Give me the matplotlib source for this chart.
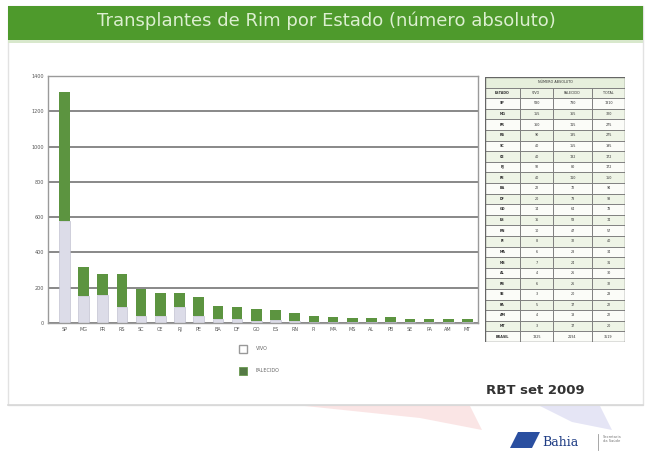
import matplotlib.pyplot as plt
from matplotlib.patches import Rectangle, Polygon
import numpy as np

# kidney transplants by state, living vs deceased donor
states = ['SP', 'MG', 'PR', 'RS', 'SC', 'CE', 'RJ', 'PE', 'BA', 'DF', 'GO',
          'ES', 'RN', 'PI', 'MA', 'MS', 'AL', 'PB', 'SE', 'PA', 'AM', 'MT']
vivo = [580, 155, 160, 90, 40, 40, 92, 40, 22, 20, 14,
        16, 10, 8, 6, 7, 4, 6, 3, 5, 4, 3]
falecido = [730, 165, 115, 185, 155, 132, 80, 110, 72, 73, 64,
            58, 47, 32, 28, 24, 26, 26, 20, 17, 18, 17]
yticks = [0, 200, 400, 600, 800, 1000, 1200, 1400]

W, H = 651, 457
green = '#4e9a2c'
bar_green = '#5c9440'
light = '#dcdce8'


def fx(px):
    return px / W


def fy(py):
    return 1 - py / H


fig = plt.figure(figsize=(W / 100, H / 100), dpi=100, facecolor='white')

# slide background, header band and footer
bg = fig.add_axes([0, 0, 1, 1])
bg.set_xlim(0, W)
bg.set_ylim(H, 0)
bg.axis('off')
bg.add_patch(Rectangle((8, 6), 635, 399, facecolor='white', edgecolor='#e2e2e2', lw=1))
bg.add_patch(Rectangle((8, 39), 635, 4, facecolor='#d8e8cc', edgecolor='none'))
bg.add_patch(Rectangle((8, 6), 635, 34, facecolor=green, edgecolor='none'))
bg.text(326, 21, 'Transplantes de Rim por Estado (número absoluto)', color='#dcefd0',
        fontsize=13, ha='center', va='center')
bg.plot([8, 643], [405, 405], color='#d8d8d8', lw=1.2)
bg.add_patch(Polygon([[305, 406], [470, 406], [482, 430], [420, 418]],
                     closed=True, facecolor='#f8d4d4', edgecolor='none', alpha=0.6))
bg.add_patch(Polygon([[540, 406], [600, 406], [612, 430], [572, 422]],
                     closed=True, facecolor='#dadaf2', edgecolor='none', alpha=0.7))
bg.text(585, 391, 'RBT set 2009', fontsize=9.5, fontweight='bold', color='#333333',
        ha='right', va='center')
bg.add_patch(Polygon([[510, 448], [518, 432], [540, 432], [532, 448]],
                     closed=True, facecolor='#2a4fa0', edgecolor='none'))
bg.text(542, 442, 'Bahia', fontsize=9, family='DejaVu Serif', color='#1e3c84',
        ha='left', va='center')
bg.plot([598, 598], [434, 450], color='#999999', lw=0.6)
bg.text(603, 439, 'Secretaria\nda Saúde', fontsize=2.6, color='#777777',
        ha='left', va='center', linespacing=1.1)

# stacked bar chart
ax = fig.add_axes([fx(48), fy(323), fx(478 - 48), fy(76) - fy(323)])
x = np.arange(len(states))
ax.bar(x, vivo, width=0.55, color=light, edgecolor='#b8b8c8', lw=0.4)
ax.bar(x, falecido, bottom=vivo, width=0.55, color=bar_green, edgecolor='none')
ax.set_xlim(-0.85, len(states) - 0.45)
ax.set_ylim(0, 1400)
ax.set_yticks(yticks)
ax.set_yticklabels([str(t) for t in yticks], fontsize=3.5, color='#555555')
ax.set_xticks(x)
ax.set_xticklabels(states, fontsize=3.5, color='#555555')
ax.tick_params(length=0, pad=3)
ax.grid(axis='y', color='#7f7f7f', lw=1.3)
ax.set_axisbelow(True)
for s in ax.spines.values():
    s.set_color('#9a9a9a')
    s.set_linewidth(1)

# legend
bg.add_patch(Rectangle((239, 345), 8, 8, facecolor='white', edgecolor='#999999', lw=1))
bg.text(256, 349, 'VIVO', fontsize=3.5, color='#666666', va='center')
bg.add_patch(Rectangle((239, 367), 8, 8, facecolor='#557a45', edgecolor='#6a9a50', lw=0.6))
bg.text(256, 371, 'FALECIDO', fontsize=3.5, color='#666666', va='center')

# summary table at the right
tb = fig.add_axes([fx(485), fy(342), fx(625 - 485), fy(77) - fy(342)])
tb.axis('off')
col_x = [0, 35, 68, 107, 140]
nrows = len(states) + 3
tb.set_xlim(0, 140)
tb.set_ylim(nrows, 0)
totals = [v + f for v, f in zip(vivo, falecido)]
rows = [['ESTADO', 'VIVO', 'FALECIDO', 'TOTAL']]
rows += [[s, str(v), str(f), str(t)] for s, v, f, t in zip(states, vivo, falecido, totals)]
rows += [['BRASIL', str(sum(vivo)), str(sum(falecido)), str(sum(totals))]]
tb.add_patch(Rectangle((0, 0), 140, 1, facecolor='#e6efdc', edgecolor='#777777', lw=0.6))
tb.text(70, 0.5, 'NÚMERO ABSOLUTO', fontsize=2.4, ha='center', va='center', color='#333333')
for r, row in enumerate(rows):
    y0 = r + 1
    fc = '#eef4e6' if r % 2 == 0 else '#fbfcf8'
    for c in range(4):
        tb.add_patch(Rectangle((col_x[c], y0), col_x[c + 1] - col_x[c], 1,
                               facecolor=fc, edgecolor='#777777', lw=0.6))
        tb.text((col_x[c] + col_x[c + 1]) / 2, y0 + 0.5, row[c], fontsize=2.4,
                ha='center', va='center', color='#333333',
                fontweight='bold' if c == 0 else 'normal')
tb.add_patch(Rectangle((0, 0), 140, nrows, facecolor='none', edgecolor='#666666', lw=1))

fig.savefig('out.png', dpi=100, facecolor='white')
